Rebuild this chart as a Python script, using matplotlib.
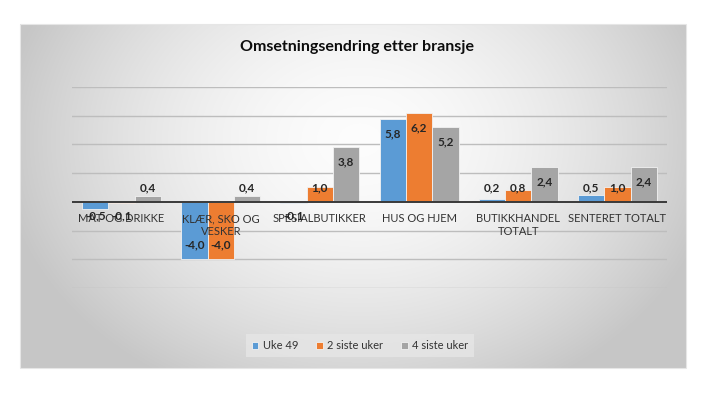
import numpy as np
import matplotlib
matplotlib.use("Agg")
import matplotlib.pyplot as plt
from matplotlib.patches import Rectangle

plt.rcParams['font.family'] = ['Lato', 'DejaVu Sans']

categories = ["MAT OG DRIKKE", "KLÆR, SKO OG\nVESKER", "SPESIALBUTIKKER",
              "HUS OG HJEM", "BUTIKKHANDEL\nTOTALT", "SENTERET TOTALT"]
series_names = ["Uke 49", "2 siste uker", "4 siste uker"]
uke49 = [-0.5, -4.0, -0.1, 5.8, 0.2, 0.5]
to_uker = [-0.1, -4.0, 1.0, 6.2, 0.8, 1.0]
fire_uker = [0.4, 0.4, 3.8, 5.2, 2.4, 2.4]
colors = ["#5B9BD5", "#ED7D31", "#A5A5A5"]
title = "Omsetningsendring etter bransje"

W, H = 706, 397
fig = plt.figure(figsize=(W / 100, H / 100), dpi=100)
fig.patch.set_facecolor("white")

# background panel with radial gradient
bg = fig.add_axes([0, 0, 1, 1], zorder=0)
bg.set_xlim(0, W)
bg.set_ylim(H, 0)
bg.axis("off")
px0, px1, py0, py1 = 20, 686, 24, 368
xx, yy = np.meshgrid(np.linspace(px0, px1, 400), np.linspace(py0, py1, 240))
cx, cy = 360, 140
d = np.sqrt(((xx - cx) / 360) ** 2 + ((yy - cy) / 280) ** 2)
d = np.clip(d, 0, 1)
val = 0.99 - 0.21 * d ** 1.7
img = np.dstack([val, val, val])
bg.imshow(img, extent=[px0, px1, py1, py0], aspect="auto", interpolation="bilinear")
bg.add_patch(Rectangle((px0, py0), px1 - px0, py1 - py0, fill=False,
                       edgecolor="#e6e6e6", linewidth=0.8))
bg.text(357, 47, title, ha="center", va="center", fontsize=11.5,
        fontweight="bold", color="#0d0d0d")

ax = fig.add_axes([72 / W, 1 - 288 / H, 595 / W, 201 / H], zorder=1)
ax.patch.set_alpha(0)
ax.set_ylim(-6, 8)
ax.set_xlim(-0.5, len(categories) - 0.5)
for s in ax.spines.values():
    s.set_visible(False)
ax.set_xticks([])
ax.set_yticks([])
for g in [8, 6, 4, 2, -2, -4, -6]:
    ax.axhline(g, color="#bdbdbd", linewidth=1.0, zorder=1)
ax.axhline(0, color="#3a3a3a", linewidth=1.4, zorder=4)

x = np.arange(len(categories))
bw = 0.265
all_series = [uke49, to_uker, fire_uker]
for i, (vals, c, name) in enumerate(zip(all_series, colors, series_names)):
    xs = x + (i - 1) * bw
    ax.bar(xs, vals, width=bw, color=c, edgecolor="#f2f2f2", linewidth=0.6,
           label=name, zorder=3)
    for xi, v in zip(xs, vals):
        if v >= 0:
            yc = max(v - 1.03, 0.95)
        else:
            yc = min(v + 1.03, -1.0)
        ax.text(xi, yc, f"{v:.1f}".replace(".", ","), ha="center", va="center",
                fontsize=8.5, fontweight="bold", color="#262626", zorder=6)

for xi, cat in zip(x, categories):
    ax.annotate(cat, (xi, 0), xytext=(0, -8), textcoords="offset points",
                ha="center", va="top", fontsize=8, color="#333333",
                linespacing=1.25, zorder=5)

leg = fig.legend(loc="center", bbox_to_anchor=(360 / W, 1 - 345.5 / H), ncol=3,
                 frameon=True, fontsize=8, handlelength=0.6, handleheight=0.6,
                 handletextpad=0.4, columnspacing=1.6, borderpad=0.55,
                 fancybox=False)
leg.get_frame().set_facecolor("#e6e6e6")
leg.get_frame().set_edgecolor("none")
for t in leg.get_texts():
    t.set_color("#333333")

fig.savefig("out.png", dpi=100, facecolor="white")
